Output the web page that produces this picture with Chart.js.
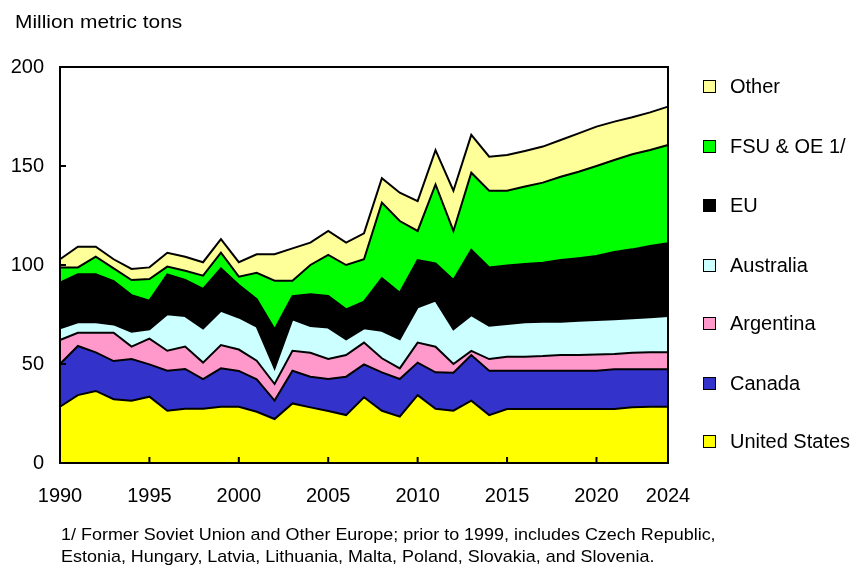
<!DOCTYPE html>
<html>
<head>
<meta charset="utf-8">
<script src="https://cdn.jsdelivr.net/npm/chart.js@4.4.1/dist/chart.umd.min.js"></script>
<style>
  body { margin: 0; background: #fff; font-family: "Liberation Sans", Arial, sans-serif; }
  #wrap { position: relative; width: 857px; height: 567px; overflow: hidden; }
  #unit { position: absolute; left: 15px; top: 11px; font-size: 19px; color: #000; transform: scaleX(1.1); transform-origin: left top; white-space: nowrap; }
  #note { position: absolute; left: 61px; top: 524px; font-size: 17px; line-height: 22px; color: #000; transform: scaleX(1.056); transform-origin: left top; white-space: nowrap; }
  #legend { position: absolute; left: 703px; top: 0; }
  .item { position: absolute; left: 0; white-space: nowrap; font-size: 20px; }
  .box { position: absolute; left: 0; top: -7px; width: 11px; height: 11px; border: 1.5px solid #000; }
  .lbl { position: absolute; left: 27px; top: -12px; }
</style>
</head>
<body>
<div id="wrap">
  <canvas id="chart" width="857" height="567"></canvas>
  <div id="unit">Million metric tons</div>
  <div id="legend"></div>
  <div id="note">1/ Former Soviet Union and Other Europe; prior to 1999, includes Czech Republic,<br>Estonia, Hungary, Latvia, Lithuania, Malta, Poland, Slovakia, and Slovenia.</div>
</div>
<script>
const years = [];
for (let y = 1990; y <= 2024; y++) years.push(y);

const tickYears = [1990, 1995, 2000, 2005, 2010, 2015, 2020, 2024];

const unitedStates = [28.4, 34.3, 36.4, 32.2, 31.5, 33.5, 26.4, 27.4, 27.4, 28.4,
  28.4, 25.9, 22.2, 30.1, 28.1, 26.3, 24.2, 33.2, 26.4, 23.4,
  34.3, 27.4, 26.4, 31.5, 24.2, 27.3, 27.3, 27.3, 27.3, 27.3,
  27.3, 27.3, 28.1, 28.4, 28.4];
const canada = [21.6, 24.8, 19.5, 19.3, 21.0, 16.3, 20.2, 20.1, 15.0, 19.4,
  18.1, 16.4, 9.3, 16.5, 15.5, 16.1, 19.4, 16.6, 19.4, 19.0,
  16.4, 18.4, 19.2, 23.0, 22.4, 19.3, 19.3, 19.3, 19.3, 19.3,
  19.3, 20.0, 19.2, 18.9, 18.9];
const argentina = [12.1, 6.7, 9.9, 14.3, 6.3, 13.0, 10.1, 11.3, 8.3, 11.8,
  10.8, 9.4, 8.4, 10.1, 12.1, 10.1, 10.9, 11.0, 7.1, 5.4,
  10.1, 12.9, 4.4, 2.1, 5.9, 7.1, 7.1, 7.4, 7.9, 7.9,
  8.2, 7.7, 8.4, 8.6, 8.6];
const australia = [5.9, 5.3, 5.3, 4.2, 7.5, 4.7, 18.4, 15.4, 17.3, 17.3,
  16.2, 17.2, 7.9, 15.9, 13.5, 15.9, 8.0, 7.2, 13.9, 14.7,
  17.8, 23.3, 17.5, 18.1, 16.8, 16.5, 17.4, 17.4, 16.9, 17.4,
  17.4, 17.6, 17.4, 17.7, 18.3];
const eu = [23.1, 24.2, 24.2, 21.9, 18.5, 14.5, 20.2, 18.2, 19.9, 21.4,
  16.4, 13.8, 19.7, 11.7, 16.0, 15.9, 15.1, 13.5, 26.5, 23.5,
  23.9, 18.8, 24.9, 32.9, 29.5, 29.5, 29.4, 29.8, 31.1, 31.5,
  32.3, 34.0, 34.8, 36.0, 36.8];
const fsu = [7.7, 3.5, 8.9, 6.4, 7.6, 10.9, 3.9, 4.7, 6.7, 7.9,
  4.2, 13.4, 24.6, 7.8, 14.8, 20.8, 22.4, 21.4, 38.2, 36.2,
  14.7, 39.9, 24.8, 39.0, 38.7, 37.8, 39.1, 40.4, 42.1, 43.7,
  45.5, 46.4, 48.0, 48.5, 49.6];
const other = [4.1, 10.4, 5.0, 4.6, 5.6, 5.9, 7.0, 7.1, 6.8, 6.9,
  7.3, 9.3, 13.3, 16.3, 11.3, 12.1, 11.3, 13.1, 12.3, 14.3,
  15.1, 17.3, 20.3, 19.1, 17.2, 18.1, 18.0, 18.2, 18.5, 19.4,
  19.9, 19.4, 18.7, 19.0, 19.4];

const series = [
  { name: 'United States', data: unitedStates, color: '#ffff00' },
  { name: 'Canada', data: canada, color: '#3333cc' },
  { name: 'Argentina', data: argentina, color: '#ff99cc' },
  { name: 'Australia', data: australia, color: '#ccffff' },
  { name: 'EU', data: eu, color: '#000000' },
  { name: 'FSU & OE 1/', data: fsu, color: '#00ff00' },
  { name: 'Other', data: other, color: '#ffff99' }
];

const font = '"Liberation Sans", Arial, sans-serif';

// box around plot + inward tick marks
const frame = {
  id: 'frame',
  afterDatasetsDraw(chart) {
    const { ctx, chartArea: a, scales } = chart;
    ctx.save();
    ctx.strokeStyle = '#000';
    ctx.lineWidth = 2;
    ctx.beginPath();
    [50, 100, 150].forEach(v => {
      const y = scales.y.getPixelForValue(v);
      ctx.moveTo(a.left, y);
      ctx.lineTo(a.left + 6, y);
    });
    tickYears.forEach(yr => {
      const x = scales.x.getPixelForValue(years.indexOf(yr));
      ctx.moveTo(x, a.bottom);
      ctx.lineTo(x, a.bottom - 6);
    });
    ctx.stroke();
    ctx.strokeRect(a.left, a.top, a.right - a.left, a.bottom - a.top);
    ctx.restore();
  }
};

var ctx = document.querySelector('#chart').getContext('2d');
var chart = new Chart(ctx, {
  type: 'line',
  data: {
    labels: years,
    datasets: series.map((s, i) => ({
      label: s.name,
      data: s.data,
      backgroundColor: s.color,
      borderColor: '#000',
      borderWidth: 2,
      pointRadius: 0,
      tension: 0,
      fill: i === 0 ? 'origin' : '-1'
    }))
  },
  options: {
    responsive: false,
    animation: false,
    layout: { padding: { top: 67, right: 189, left: 0, bottom: 0 } },
    plugins: { legend: { display: false }, tooltip: { enabled: false } },
    scales: {
      x: {
        offset: false,
        grid: { display: false, drawTicks: false },
        border: { display: false },
        afterFit: s => { s.height = 104; },
        ticks: {
          autoSkip: false,
          maxRotation: 0,
          padding: 21,
          color: '#000',
          font: { family: font, size: 20 },
          callback: (v, i) => tickYears.includes(years[i]) ? String(years[i]) : ''
        }
      },
      y: {
        stacked: true,
        min: 0,
        max: 200,
        grid: { display: false, drawTicks: false },
        border: { display: false },
        afterFit: s => { s.width = 60; },
        ticks: {
          stepSize: 50,
          padding: 16,
          color: '#000',
          font: { family: font, size: 20 }
        }
      }
    }
  },
  plugins: [frame]
});

// legend, top to bottom = reverse stacking order
const legendY = [87, 147, 206, 266, 324, 384, 442];
const legend = document.querySelector('#legend');
series.slice().reverse().forEach((s, i) => {
  legend.insertAdjacentHTML('beforeend', `
    <div class="item" style="top:${legendY[i]}px">
      <div class="box" style="background:${s.color}"></div>
      <div class="lbl">${s.name}</div>
    </div>`);
});
</script>
</body>
</html>
